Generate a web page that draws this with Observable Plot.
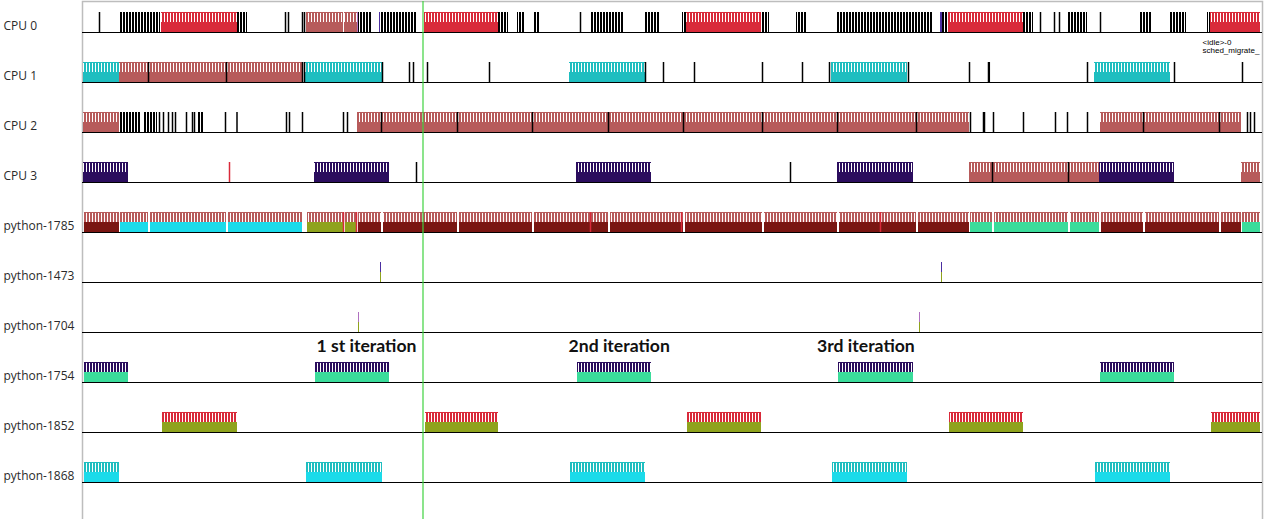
<!DOCTYPE html>
<html><head><meta charset="utf-8">
<script src="https://cdn.jsdelivr.net/npm/d3@7"></script>
<script src="https://cdn.jsdelivr.net/npm/@observablehq/plot@0.6"></script>
<style>
html,body{margin:0;padding:0;background:#fff;}
#chart svg{display:block;}
</style></head>
<body>
<svg width="0" height="0" style="position:absolute">
<defs>
<pattern id="stripes" patternUnits="userSpaceOnUse" width="3" height="10"><rect x="2" y="0" width="1" height="10" fill="#fff"/></pattern>
<pattern id="burst" patternUnits="userSpaceOnUse" width="3" height="10"><rect x="2" y="0" width="1" height="10" fill="#fff"/></pattern>
</defs></svg>
<div id="chart"></div>
<script>
// ---- rows (plots) ----
const rows = ["CPU 0","CPU 1","CPU 2","CPU 3","python-1785","python-1473","python-1704","python-1754","python-1852","python-1868"];
const timeDomain = [0, 1180];
const cursorTime = 340.5;

// ---- task runs: [cpu, start, end] ----
const runs1785 = [["CPU 2",1,37],["CPU 1",37,66],["CPU 1",67,144],["CPU 1",145,220],["CPU 0",224,261],["CPU 0",262,275],
  ["CPU 2",275,299],["CPU 2",300,375],["CPU 2",376,450],["CPU 2",451,526],["CPU 2",527,601],["CPU 2",602,680],["CPU 2",681,755],["CPU 2",756,834],["CPU 2",835,887],
  ["CPU 3",887,910],["CPU 3",911,986],["CPU 3",987,1017],["CPU 2",1018,1061],["CPU 2",1062,1137],["CPU 2",1138,1159],["CPU 3",1159,1178]];
const runs1852 = [["CPU 0",79,155],["CPU 0",342,416],["CPU 0",604,679],["CPU 0",866,941],["CPU 0",1128,1178]];
const runs1868 = [["CPU 1",1,37],["CPU 1",223,300],["CPU 1",487,563],["CPU 1",749,825],["CPU 1",1012,1088]];
const runs1754 = [["CPU 3",1,46],["CPU 3",232,307],["CPU 3",494,569],["CPU 3",755,831],["CPU 3",1017,1092]];
const runs1473 = [["CPU 0",297,299],["CPU 0",858,860]];
const runs1704 = [["CPU 0",275,277],["CPU 0",836,838]];

// ---- idle task: single events and dense bursts per CPU ----
const cpu0IdleTicks = [17,203,206,220,222,498,958,972,977,1018];
const cpu0IdleBursts = [[37,78],[155,165],[276,290],[298,335],[416,426],[435,443],[451,458],[508,541],[562,578],[600,604],[679,687],[714,725],[754,850],[860,866],[941,951],[985,1005],[1058,1070],[1087,1104],[1125,1128]];
const cpu1IdleTicks = [66,144,220,222,300,327,331,345,407,563,581,612,680,720,747,826,887,906,906.8,1005,1092,1160];
const cpu2IdleTicks = [77,81,86,90,93,104,110,112,143,154.5,204,207,220,261,265,299,375,450,526,601,680,755,834,888,901,902,911,941,973,985,1005,1061,1137,1165,1168,1172];
const cpu2IdleBursts = [[38,58],[61,75],[116,122]];
const cpu3IdleTicks = [334,708,910,986];
// wake-up / other events
const otherEvents = [["CPU 3",147,"python-1852"],["python-1785",261,"python-1852"],["python-1785",274,"python-1852"],["python-1785",508,"python-1852"],["python-1785",599,"python-1852"],["python-1785",798,"python-1852"]];

// ---- annotations ----
const iterLabels = [[234,"1 st iteration"],[486,"2nd iteration"],[734.5,"3rd iteration"]];
const tooltipText = [1120, "<idle>-0\nsched_migrate_"];

// ---- colours (task colour on CPU plots, CPU colour on task plots) ----
const colorKeys = ["python-1785","python-1852","python-1868","python-1754","python-1473","python-1704","CPU 0","CPU 1","CPU 2","CPU 3","idle"];
const colorRange = ["#b75b5b","#d92a3a","#1fbec0","#2b0d5e","#4b2fa0","#b070c0","#8fa31d","#1bdbea","#7a1612","#3bdc9b","#000000"];

// ---- build tables ----
const runTables = [["python-1785",runs1785],["python-1852",runs1852],["python-1868",runs1868],["python-1754",runs1754],["python-1473",runs1473],["python-1704",runs1704]];
const runs = runTables.flatMap(([task, list]) => list.map(([cpu, start, end]) => ({task, cpu, start, end})));
const wide = runs.filter(d => d.end - d.start > 3);
const idleTicks = [["CPU 0",cpu0IdleTicks],["CPU 1",cpu1IdleTicks],["CPU 2",cpu2IdleTicks],["CPU 3",cpu3IdleTicks]]
  .flatMap(([cpu, l]) => l.map(t => ({cpu, t, task: "idle"})));
const idleBursts = [["CPU 0",cpu0IdleBursts],["CPU 2",cpu2IdleBursts]]
  .flatMap(([cpu, l]) => l.map(([start, end]) => ({cpu, start, end, task: "idle"})));
const events = otherEvents.map(([row, t, key]) => ({row, t, key}));
const iters = iterLabels.map(([t, label]) => ({t, label, row: "python-1754"}));

const chart = Plot.plot({
  width: 1264, height: 519,
  marginLeft: 82, marginRight: 2, marginTop: 1, marginBottom: -1,
  x: {domain: timeDomain, axis: null},
  y: {type: "band", domain: rows, range: [-17, 483], padding: 0, axis: null},
  color: {type: "ordinal", domain: colorKeys, range: colorRange},
  marks: [
    Plot.frame({stroke: "#bdbdbd", strokeWidth: 1.5}),
    // baselines
    Plot.barX(rows, {y: d => d, x1: timeDomain[0], x2: timeDomain[1], fill: "#000", insetTop: 49, insetBottom: 0}),
    // CPU plots: runs coloured by task
    Plot.barX(runs, {y: "cpu", x1: "start", x2: "end", fill: "task", insetTop: 29, insetBottom: 1}),
    // task plots: upper half task colour, lower half CPU colour
    Plot.barX(runs, {y: "task", x1: "start", x2: "end", fill: "task", insetTop: 29, insetBottom: 11, insetLeft: 1}),
    Plot.barX(runs, {y: "task", x1: "start", x2: "end", fill: "cpu", insetTop: 39, insetBottom: 1, insetLeft: 1}),
    // striped upper halves
    Plot.barX(wide, {y: "cpu", x1: "start", x2: "end", fill: "url(#stripes)", insetTop: 30, insetBottom: 11}),
    Plot.barX(wide, {y: "task", x1: "start", x2: "end", fill: "url(#stripes)", insetTop: 30, insetBottom: 11}),
    // idle
    Plot.barX(idleBursts, {y: "cpu", x1: "start", x2: "end", fill: "task", insetTop: 29, insetBottom: 1}),
    Plot.barX(idleBursts, {y: "cpu", x1: "start", x2: "end", fill: "url(#burst)", insetTop: 29, insetBottom: 1}),
    Plot.tickX(idleTicks, {y: "cpu", x: "t", stroke: "task", strokeWidth: 1.5, insetTop: 29, insetBottom: 1}),
    Plot.tickX(events, {y: "row", x: "t", stroke: "key", strokeWidth: 1.5, insetTop: 29, insetBottom: 1}),
    // row labels
    Plot.text(rows, {y: d => d, text: d => d, frameAnchor: "left", textAnchor: "start", dx: -79, dy: 18,
      fontSize: 12, fontFamily: "Open Sans", fill: "#2a2a2a"}),
    // iteration annotations
    Plot.text(iters, {x: "t", y: "row", text: "label", textAnchor: "start", dy: -12,
      fontSize: 17.6, fontWeight: "bold", fontFamily: "Lato", fill: "#111"}),
    Plot.text([tooltipText], {x: d => d[0], y: d => "CPU 1", text: d => d[1], textAnchor: "start", lineAnchor: "top",
      dy: -19, fontSize: 8, lineHeight: 1, fontFamily: "Liberation Sans", fill: "#000"}),
    // marker
    Plot.ruleX([cursorTime], {x: d => d, stroke: "#3fd23f", strokeWidth: 1.2})
  ]
});
document.getElementById("chart").append(chart);
</script>
</body></html>
